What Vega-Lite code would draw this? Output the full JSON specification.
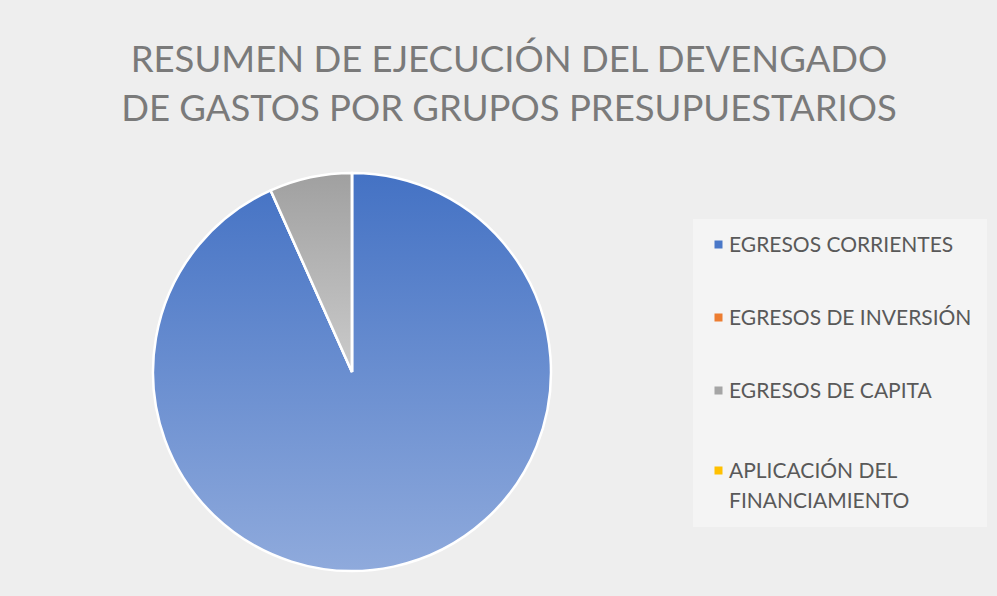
{
  "$schema": "https://vega.github.io/schema/vega-lite/v6.json",
  "autosize": "none",
  "width": 688,
  "height": 436,
  "padding": {"left": 8, "top": 154, "right": 301, "bottom": 6},
  "background": "#eeeeee",
  "title": {
    "text": ["RESUMEN DE EJECUCIÓN DEL DEVENGADO", "DE GASTOS POR GRUPOS PRESUPUESTARIOS"],
    "anchor": "middle",
    "dx": 157,
    "offset": 26,
    "font": "Lato",
    "fontSize": 36.5,
    "fontWeight": "normal",
    "color": "#7a7a7a",
    "lineHeight": 49
  },
  "data": {
    "values": [
      {"grupo": "EGRESOS CORRIENTES", "valor": 93.3, "orden": 1},
      {"grupo": "EGRESOS DE INVERSIÓN", "valor": 0, "orden": 2},
      {"grupo": "EGRESOS DE CAPITA", "valor": 6.7, "orden": 3},
      {"grupo": "APLICACIÓN DEL FINANCIAMIENTO", "valor": 0, "orden": 4}
    ]
  },
  "encoding": {
    "theta": {"field": "valor", "type": "quantitative", "stack": true},
    "order": {"field": "orden", "type": "quantitative"}
  },
  "layer": [
    {
      "mark": {"type": "arc", "outerRadius": 199},
      "encoding": {
        "color": {
          "field": "grupo",
          "type": "nominal",
          "sort": ["EGRESOS CORRIENTES", "EGRESOS DE INVERSIÓN", "EGRESOS DE CAPITA", "APLICACIÓN DEL FINANCIAMIENTO"],
          "scale": {
            "domain": ["EGRESOS CORRIENTES", "EGRESOS DE INVERSIÓN", "EGRESOS DE CAPITA", "APLICACIÓN DEL FINANCIAMIENTO"],
            "range": ["#4a78c8", "#ED7D31", "#A5A5A5", "#FFC000"]
          },
          "legend": {
            "orient": "none",
            "legendX": 685,
            "legendY": 65,
            "title": null,
            "fillColor": "rgba(255,255,255,0.35)",
            "padding": 15,
            "symbolType": "square",
            "symbolSize": 64,
            "symbolStrokeWidth": 0,
            "labelFont": "Lato",
            "labelFontSize": 21,
            "labelColor": "#595959",
            "labelLimit": 400,
            "labelOffset": 0,
            "labelBaseline": "alphabetic",
            "rowPadding": 51,
            "labelExpr": "datum.label == 'APLICACIÓN DEL FINANCIAMIENTO' ? ['APLICACIÓN DEL', 'FINANCIAMIENTO'] : datum.label",
            "encode": {
              "labels": {"update": {"dy": {"signal": "datum.value === 'APLICACIÓN DEL FINANCIAMIENTO' ? 14.5 : 7.5"}, "lineHeight": {"value": 30}}},
              "symbols": {"update": {"y": {"signal": "datum.value === 'APLICACIÓN DEL FINANCIAMIENTO' ? 17.5 : 10.5"}}}
            }
          }
        }
      }
    },
    {
      "mark": {"type": "arc", "outerRadius": 199, "stroke": "white", "strokeWidth": 2.5},
      "encoding": {
        "fill": {
          "condition": {
            "test": "datum.grupo === 'EGRESOS CORRIENTES'",
            "value": {
              "gradient": "linear", "x1": 0, "y1": 0, "x2": 0, "y2": 1,
              "stops": [{"offset": 0, "color": "#4472C4"}, {"offset": 1, "color": "#8FAADC"}]
            }
          },
          "value": {
            "gradient": "linear", "x1": 0, "y1": 0, "x2": 0, "y2": 1,
            "stops": [{"offset": 0, "color": "#a0a0a0"}, {"offset": 1, "color": "#cbcbcb"}]
          }
        }
      }
    }
  ],
  "config": {"view": {"stroke": null}}
}
